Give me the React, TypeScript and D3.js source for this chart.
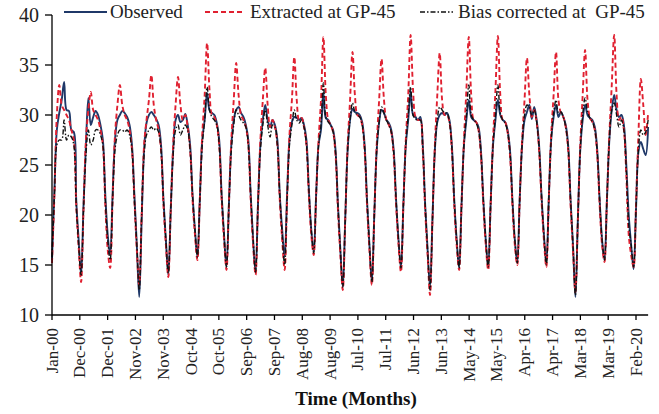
import React from "react";
import * as d3 from "d3";

// Monthly values, Jan-2000 ... Jul-2020
const observed: number[] = [
  // 2000
  15.5, 22.5, 28.5, 30.2, 31.5, 33.3, 30.5, 30.4, 28.5, 28.3, 21.5, 17.5,
  // 2001
  14.0, 21, 27, 31.7, 29, 29.8, 30.4, 30, 29, 27.5, 22, 18,
  // 2002
  16, 22, 27.5, 29.5, 30, 30.4, 30.2, 29.8, 29, 27, 22, 17,
  // 2003
  11.8, 19.5, 26.5, 29.2, 30, 30.3, 30, 29.6, 29, 27, 21.5, 17.5,
  // 2004
  14, 20.5, 26.5, 29.5, 30, 29.3, 29.5, 30.1, 29, 27, 22, 18.5,
  // 2005
  15.8, 21.5, 27.5, 29.5, 32.2, 30.5, 30.2, 30, 29.2, 27.5, 22, 18,
  // 2006
  14.8, 21, 27, 29.5, 30.5, 30.8, 30.2, 29.8, 29, 27.5, 22, 17.5,
  // 2007
  14.2, 21, 27, 29.5, 31, 29.5, 28.8, 29.5, 29, 27.5, 22, 18.5,
  // 2008
  15.8, 22, 27.5, 29.3, 29.8, 29.7, 29.5, 29.7, 29, 27.5, 22.5, 18.5,
  // 2009
  16.3, 22, 27, 28.5, 32.2, 29.7, 29.5, 29, 28.5, 26.5, 21, 16.5,
  // 2010
  12.8, 19.5, 26.5, 29.5, 30.6, 30.3, 30.2, 30, 29.3, 27, 21.5, 17,
  // 2011
  13.3, 20, 26.5, 29.3, 30.5, 30.2, 29.5, 29.2, 28.5, 26.5, 21.5, 17.5,
  // 2012
  14.7, 21, 27, 29.5, 32.4, 30, 29.8, 29.5, 29.8, 27, 21, 16.5,
  // 2013
  12.8, 19.5, 26.5, 29.3, 30, 30.2, 30, 30.2, 29.5, 27, 21.5, 17.5,
  // 2014
  14.7, 21, 27, 29.5, 31.5, 29.8, 29.5, 29.3, 28.8, 26.5, 21.5, 17.5,
  // 2015
  14.8, 21, 27, 29.5, 31.5, 30, 29.5, 29.3, 28.5, 26.5, 21.5, 17.5,
  // 2016
  15.2, 21.5, 27, 29.5, 30.3, 31, 29.6, 30.8, 29.5, 27, 22, 18,
  // 2017
  15.2, 21.5, 27.5, 29.8, 31, 29.8, 30.3, 29.8, 29, 27, 21.5, 17,
  // 2018
  11.8, 19.5, 26.5, 29.5, 31, 30, 29.7, 29.5, 28.8, 26.5, 21.5, 17.5,
  // 2019
  15.5, 21.5, 27.5, 30.5, 32, 30.5, 29.8, 30, 29, 25, 20, 17,
  // 2020
  14.6, 20.5, 26.3, 27.3, 26.6, 26, 28.8,
];

const extracted: number[] = [
  // 2000
  15.2, 22, 30, 33, 31, 30.5, 30, 29.5, 28.5, 27.5, 21, 16.8,
  // 2001
  13.3, 20.5, 27.5, 30.5, 32.3, 30.5, 30, 29.5, 28.5, 27, 21, 16.5,
  // 2002
  14.7, 21.5, 28, 31, 33, 31, 30, 29.5, 28.5, 26.5, 21.5, 16.5,
  // 2003
  13, 20, 27, 29.5, 31.5, 34, 31, 29.5, 28.5, 26.5, 21, 17,
  // 2004
  13.8, 20.5, 27, 31, 33.8, 31, 29.5, 30, 28.8, 26.5, 21.5, 18,
  // 2005
  15.5, 21.5, 28, 32, 37.2, 32.5, 30, 29.8, 29, 27, 21.5, 17.5,
  // 2006
  14.5, 21, 27.5, 31.5, 35.2, 32, 30, 29.5, 28.8, 27, 21.5, 17,
  // 2007
  14, 21, 27.5, 31.5, 34.7, 31, 28.8, 29.5, 28.8, 27, 21.5, 17.5,
  // 2008
  14.5, 21.5, 28, 31.5, 35.8, 31.5, 29.5, 29.7, 28.8, 27, 22, 18,
  // 2009
  16, 22, 27.5, 31.5, 37.8, 32, 29.5, 29, 28.3, 26, 20.5, 16,
  // 2010
  12.5, 19.5, 27, 31.5, 36.3, 32, 30, 29.8, 29, 26.5, 21, 16.5,
  // 2011
  13, 20, 27, 31.5, 35.6, 31.5, 29.5, 29, 28.3, 26, 21, 17,
  // 2012
  14.3, 21, 27.5, 32, 38, 32.5, 29.8, 29.5, 29.5, 26.5, 20.5, 16,
  // 2013
  12, 19.5, 27, 32, 36.2, 31.5, 30, 30, 29.3, 26.5, 21, 17,
  // 2014
  14.5, 21, 27.5, 32.5, 37.8, 32, 29.5, 29.3, 28.5, 26, 21, 17,
  // 2015
  14.5, 21, 27.5, 32.5, 37.9, 32, 29.5, 29.3, 28.3, 26, 21, 17,
  // 2016
  15, 21.5, 27.5, 31.5, 35.7, 32, 29.8, 30.5, 29.3, 26.5, 21.5, 17.5,
  // 2017
  14.8, 21.5, 28, 32, 36.3, 31.5, 30.2, 29.8, 28.8, 26.5, 21, 16.5,
  // 2018
  12.3, 19.5, 27, 32, 36.5, 31.5, 29.7, 29.3, 28.5, 26, 21, 17,
  // 2019
  15.3, 21.5, 28, 33, 38, 32, 29.5, 29.8, 28.5, 24, 18, 16,
  // 2020
  14.8, 21, 28, 33.6, 31, 28, 30.2,
];

const biasCorrected: number[] = [
  // 2000
  15.8, 22, 27, 27.5, 27.5, 29.5, 27.5, 28, 27.8, 27, 21, 17,
  // 2001
  14, 20.5, 26, 28.5, 27, 27.5, 28.5, 28.5, 28, 27, 21.5, 17.5,
  // 2002
  15.5, 21.5, 26.5, 28, 28.5, 28.5, 28.3, 28.5, 28, 26.5, 21.5, 17,
  // 2003
  12.5, 20, 26, 28, 28.5, 28.8, 28.5, 28.7, 28.3, 26.5, 21.5, 17.5,
  // 2004
  14.2, 20.5, 26, 28.5, 29, 28, 28.5, 29, 28.5, 26.5, 22, 18.5,
  // 2005
  15.8, 21.5, 27, 29.5, 32.8, 30.5, 29.8, 29.5, 29, 27, 22, 18,
  // 2006
  14.8, 21, 26.5, 29, 30.5, 30, 29.5, 29.2, 28.8, 27, 22, 17.5,
  // 2007
  14.3, 21, 26.5, 29, 30.5, 29, 27.8, 29, 28.8, 27, 22, 18,
  // 2008
  15, 21.5, 27, 29, 30.5, 29.5, 29.2, 29.5, 28.8, 27, 22.5, 18.5,
  // 2009
  16.2, 22, 27, 29, 33.2, 29.8, 29.3, 29, 28.3, 26.3, 21, 16.5,
  // 2010
  12.8, 19.5, 26.5, 29.5, 31.2, 30.3, 30, 29.8, 29, 26.8, 21.5, 17,
  // 2011
  13.3, 20, 26.5, 29.3, 30.8, 30.2, 29.5, 29, 28.3, 26.3, 21.5, 17.5,
  // 2012
  14.7, 21, 27, 30, 32.8, 30, 29.6, 29.5, 29.5, 26.8, 21, 16.5,
  // 2013
  12.5, 19.5, 26.5, 29.5, 30.8, 30.5, 30.2, 30.2, 29.3, 26.8, 21.5, 17.5,
  // 2014
  14.7, 21, 27, 30, 33, 30, 29.5, 29.2, 28.5, 26.3, 21.5, 17.5,
  // 2015
  14.8, 21, 27, 30, 33, 30.2, 29.5, 29.2, 28.3, 26.3, 21.5, 17.5,
  // 2016
  15.2, 21.5, 27, 30, 31, 30.8, 30, 30.5, 29.3, 26.8, 22, 18,
  // 2017
  15, 21.5, 27.5, 30.2, 31.5, 30.2, 30.3, 29.8, 28.8, 26.8, 21.5, 17,
  // 2018
  12, 19.5, 26.5, 30, 31.7, 30.3, 29.7, 29.3, 28.5, 26.3, 21.5, 17.5,
  // 2019
  15.5, 21.5, 27.5, 30.5, 31.2, 30, 28.8, 29.5, 28.5, 24.5, 19, 17,
  // 2020
  14.8, 20.5, 26.5, 28.5, 28, 28.3, 29.5,
];

const tickLabels: string[] = [
  "Jan-00", "Dec-00", "Dec-01", "Nov-02", "Nov-03", "Oct-04", "Oct-05",
  "Sep-06", "Sep-07", "Aug-08", "Aug-09", "Jul-10", "Jul-11", "Jun-12",
  "Jun-13", "May-14", "May-15", "Apr-16", "Apr-17", "Mar-18", "Mar-19", "Feb-20",
];
const yTicks: number[] = [10, 15, 20, 25, 30, 35, 40];

const W = 659;
const H = 414;
const left = 52;
const top = 15;
const bottom = 315;
const tickSpan = 241; // months Jan-00 -> Feb-20
const lastTickX = 636;
const serif = "'Liberation Serif', 'Times New Roman', serif";

export default function App() {
  const pxPerMonth = (lastTickX - left) / tickSpan;
  const xMax = observed.length - 1;
  const x = d3.scaleLinear().domain([0, xMax]).range([left, left + xMax * pxPerMonth]);
  const y = d3.scaleLinear().domain([10, 40]).range([bottom, top]);
  const line = d3
    .line<number>()
    .x((_, i) => x(i))
    .y((d) => y(d))
    .curve(d3.curveCatmullRom.alpha(0.5));

  const tickPos = tickLabels.map((_, i) => (i * tickSpan) / (tickLabels.length - 1));
  const axisRight = x(xMax);

  return (
    <svg
      width={W}
      height={H}
      style={{ position: "absolute", left: 0, top: 0, background: "#fff" }}
    >
      {/* series */}
      <path d={line(observed) || ""} fill="none" stroke="#1f3868" strokeWidth={1.9} />
      <path
        d={line(extracted) || ""}
        fill="none"
        stroke="#e02030"
        strokeWidth={1.9}
        strokeDasharray="5,3"
      />
      <path
        d={line(biasCorrected) || ""}
        fill="none"
        stroke="#111"
        strokeWidth={1.4}
        strokeDasharray="5,2,1.5,2"
      />

      {/* y axis */}
      <line x1={left} x2={left} y1={top} y2={bottom} stroke="#000" strokeWidth={1.3} />
      {yTicks.map((t) => (
        <g key={t}>
          <line x1={left - 7} x2={left} y1={y(t)} y2={y(t)} stroke="#000" strokeWidth={1.3} />
          <text
            x={39}
            y={y(t)}
            textAnchor="end"
            dominantBaseline="central"
            fontFamily={serif}
            fontSize={20}
            fill="#222"
          >
            {t}
          </text>
        </g>
      ))}

      {/* x axis */}
      <line x1={left} x2={axisRight} y1={bottom} y2={bottom} stroke="#000" strokeWidth={1.3} />
      {tickPos.map((p, i) => (
        <g key={tickLabels[i]}>
          <line x1={x(p)} x2={x(p)} y1={bottom} y2={bottom + 5} stroke="#000" strokeWidth={1.3} />
          <text
            transform={`translate(${x(p) + 5.5},${bottom + 13}) rotate(-90)`}
            textAnchor="end"
            fontFamily={serif}
            fontSize={17}
            fill="#222"
          >
            {tickLabels[i]}
          </text>
        </g>
      ))}
      <text
        x={356}
        y={405}
        textAnchor="middle"
        fontFamily={serif}
        fontSize={19}
        fontWeight="bold"
        fill="#111"
      >
        Time (Months)
      </text>

      {/* legend */}
      <line x1={64} x2={107} y1={12} y2={12} stroke="#1f3868" strokeWidth={1.9} />
      <text x={110} y={18} fontFamily={serif} fontSize={19} fill="#222">
        Observed
      </text>
      <line
        x1={205}
        x2={244}
        y1={12}
        y2={12}
        stroke="#e02030"
        strokeWidth={1.9}
        strokeDasharray="5,3"
      />
      <text x={250} y={18} fontFamily={serif} fontSize={19} fill="#222">
        Extracted at GP-45
      </text>
      <line
        x1={420}
        x2={453}
        y1={12}
        y2={12}
        stroke="#111"
        strokeWidth={1.4}
        strokeDasharray="5,2,1.5,2"
      />
      <text
        x={458}
        y={18}
        fontFamily={serif}
        fontSize={19}
        fill="#222"
        style={{ whiteSpace: "pre" }}
      >
        {"Bias corrected at  GP-45"}
      </text>
    </svg>
  );
}
